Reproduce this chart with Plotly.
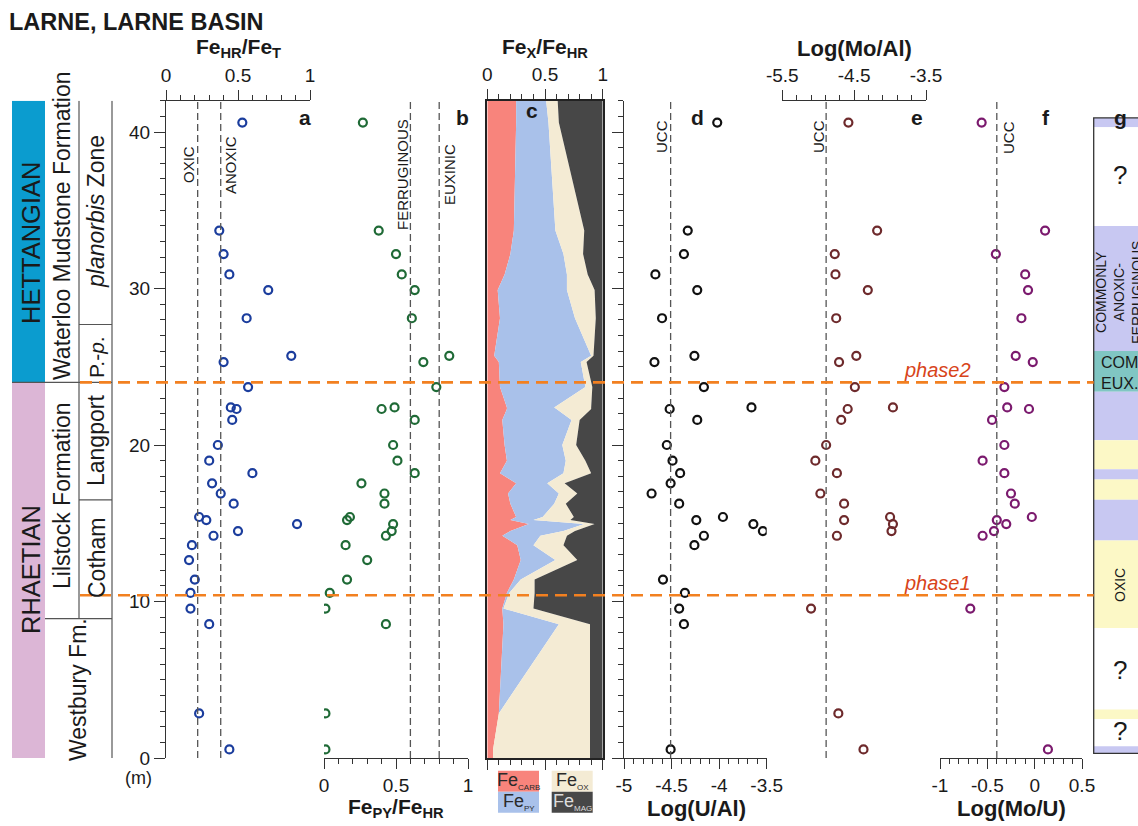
import plotly.graph_objects as go

W, H = 1138, 826
def PX(x): return x / W
def PY(y): return 1 - y / H

# ---------------- data ----------------
depth = [40.6, 33.7, 32.2, 30.9, 29.9, 28.1, 25.7, 25.3, 23.7, 22.4, 22.3, 21.6, 20.0, 19.0, 18.2,
         17.55, 16.9, 16.25, 15.4, 15.2, 14.95, 14.5, 14.2, 13.6, 12.65, 11.4, 10.55, 9.55, 8.55, 2.85, 0.55]
fehr_fet = [0.53, 0.37, 0.40, 0.44, 0.71, 0.56, 0.87, 0.40, 0.57, 0.45, 0.49, 0.46, 0.36, 0.30, 0.60,
            0.32, 0.38, 0.47, 0.23, 0.28, 0.91, 0.50, 0.33, 0.18, 0.16, 0.20, 0.17, 0.17, 0.30, 0.23, 0.44]
fepy_fehr = [0.27, 0.38, 0.50, 0.54, 0.63, 0.61, 0.87, 0.69, 0.78, 0.49, 0.40, 0.63, 0.48, 0.51, 0.63,
             0.26, 0.42, 0.42, 0.18, 0.16, 0.48, 0.47, 0.43, 0.15, 0.30, 0.16, 0.04, 0.01, 0.43, 0.01, 0.01]

c_depth = [42, 40.6, 33.7, 32.2, 30.9, 29.9, 28.1, 25.7, 25.3, 23.7, 22.4, 22.3, 21.6, 20.0, 19.0, 18.2,
           17.55, 16.9, 16.25, 15.4, 15.2, 14.95, 14.5, 14.2, 13.6, 12.65, 11.4, 10.55, 9.55, 8.55, 2.85, 0.55, 0]
fe_carb = [.25, .25, .23, .20, .15, .09, .11, .06, .10, .11, .17, .17, .13, .15, .17, .11,
           .25, .18, .20, .25, .20, .36, .20, .13, .26, .29, .23, .17, .13, .14, .10, .05, .05]
fe_py = [.26, .28, .36, .46, .54, .60, .65, .84, .71, .74, .41, .43, .60, .50, .51, .55,
         .27, .44, .38, .23, .20, .48, .46, .33, .14, .30, .06, .02, .01, .48, .00, .00, .00]
fe_ox = [.10, .09, .25, .17, .18, .24, .18, .02, .05, .06, .32, .30, .07, .12, .17, .24,
         .15, .16, .10, .27, .32, .09, .10, .23, .26, .19, .12, .22, .26, .27, .79, .84, .84]
fe_mag = [.39, .38, .16, .17, .13, .07, .06, .08, .14, .09, .10, .10, .20, .23, .15, .10,
          .33, .22, .32, .25, .28, .07, .24, .31, .34, .22, .59, .59, .60, .11, .11, .11, .11]

d_depth = [40.6, 33.7, 32.2, 30.9, 29.9, 28.1, 25.7, 25.3, 23.7, 22.4, 22.3, 21.6, 20.0, 19.0, 18.2,
           17.55, 16.9, 16.25, 15.4, 15.2, 14.95, 14.5, 14.2, 13.6, 11.4, 10.55, 9.55, 8.55, 0.55]
log_u_al = [-4.02, -4.33, -4.37, -4.67, -4.23, -4.60, -4.26, -4.68, -4.16, -3.66, -4.52, -4.23, -4.55, -4.49, -4.41,
            -4.51, -4.71, -4.42, -3.96, -4.24, -3.64, -3.54, -4.16, -4.26, -4.59, -4.36, -4.42, -4.37, -4.51]

e_depth = [40.6, 33.7, 32.2, 30.9, 29.9, 28.1, 25.7, 25.3, 23.7, 22.4, 22.3, 21.6, 20.0, 19.0, 18.2,
           16.9, 16.25, 15.4, 15.2, 14.95, 14.5, 14.2, 9.55, 2.85, 0.55]
log_mo_al = [-4.58, -4.18, -4.77, -4.76, -4.31, -4.75, -4.47, -4.71, -4.49, -3.96, -4.59, -4.68, -4.89, -5.04, -4.74,
             -4.97, -4.64, -4.00, -4.64, -3.96, -3.98, -4.74, -5.10, -4.72, -4.37]

f_depth = [40.6, 33.7, 32.2, 30.9, 29.9, 28.1, 25.7, 25.3, 23.7, 22.4, 22.3, 21.6, 20.0, 19.0, 18.2,
           16.9, 16.25, 15.4, 15.2, 14.95, 14.5, 14.2, 9.55, 0.55]
log_mo_u = [-0.56, 0.11, -0.41, -0.10, -0.07, -0.14, -0.20, -0.02, -0.32, -0.29, -0.06, -0.45, -0.32, -0.55, -0.32,
            -0.25, -0.21, -0.03, -0.40, -0.30, -0.43, -0.55, -0.68, 0.14]

# thresholds
thr_a = [0.22, 0.38]
thr_a_labels = ["OXIC", "ANOXIC"]
thr_b = [0.60, 0.80]
thr_b_labels = ["FERRUGINOUS", "EUXINIC"]
ucc_u_al, ucc_mo_al, ucc_mo_u = -4.51, -4.89, -0.40
phase_names = ["phase2", "phase1"]
phase_depth = [24.0, 10.4]

# stratigraphy
stage_names = ["HETTANGIAN", "RHAETIAN"]
stage_bottom = [24.0, 0.0]
stage_top = [42.0, 24.0]
stage_colors = ["#0b9ccf", "#dcb6d6"]

# redox interpretation (panel g)
g_bottom = [40.3, 34.0, 26.0, 23.4, 20.3, 18.45, 17.8, 16.5, 13.9, 8.3, 3.1, 2.5, 0.75, 0.3]
g_top = [40.9, 40.3, 34.0, 26.0, 23.4, 20.3, 18.45, 17.8, 16.5, 13.9, 8.3, 3.1, 2.5, 0.75]
g_class = ["anox", "unk", "anox", "eux", "anox", "oxic", "anox", "oxic", "anox", "oxic", "unk", "oxic", "unk", "anox"]

# ---------------- style ----------------
FONT = "Liberation Sans, Arial, sans-serif"
AX = "#333333"
TXT = "#1a1a1a"
ORANGE = "#f28020"
PHASE_TXT = "#d8441a"
col_carb, col_py, col_ox, col_mag = "#f8847c", "#a9c1ea", "#f4ebd4", "#474747"
g_colors = {"anox": "#c8c8f2", "unk": "#ffffff", "eux": "#80c6c3", "oxic": "#fcf8c6"}

fig = go.Figure()

def open_markers(x, y, color, xa, ya):
    return go.Scatter(x=x, y=y, mode="markers", xaxis=xa, yaxis=ya, hoverinfo="skip",
                      marker=dict(symbol="circle-open", size=8, color=color, line=dict(width=2.2)))

fig.add_trace(open_markers(fehr_fet, depth, "#1b3d9d", "x", "y"))
fig.add_trace(open_markers(fepy_fehr, depth, "#1f6a36", "x2", "y4"))
for vals, col in zip([fe_carb, fe_py, fe_ox, fe_mag], [col_carb, col_py, col_ox, col_mag]):
    fig.add_trace(go.Scatter(x=vals, y=c_depth, xaxis="x3", yaxis="y2", stackgroup="c",
                             orientation="h", mode="none", fillcolor=col, line=dict(width=0),
                             hoverinfo="skip"))
fig.add_trace(open_markers(log_u_al, d_depth, "#111111", "x4", "y3"))
fig.add_trace(open_markers(log_mo_al, e_depth, "#6e2a2c", "x5", "y5"))
fig.add_trace(open_markers(log_mo_u, f_depth, "#7b1a6e", "x6", "y6"))
fig.add_trace(go.Bar(x=[0] * len(g_bottom), y=[t - b for t, b in zip(g_top, g_bottom)], base=g_bottom,
                     width=1, xaxis="x7", yaxis="y7", hoverinfo="skip",
                     marker=dict(color=[g_colors[c] for c in g_class], line=dict(width=0))))

YDOM = [PY(758), PY(100.7)]

def minor_vals(a, b, step, majors):
    n = int(round((b - a) / step))
    vals = [round(a + i * step, 4) for i in range(n + 1)]
    return [v for v in vals if all(abs(v - m) > 1e-6 for m in majors)]

def xax(dom, rng, side, anchor, majors, labels, mstep):
    return dict(domain=[PX(dom[0]), PX(dom[1])], range=rng, side=side, anchor=anchor,
                automargin=False,
                showline=True, linecolor=AX, linewidth=1.3, showgrid=False, zeroline=False,
                ticks="outside", ticklen=10, tickwidth=1.3, tickcolor=AX,
                tickmode="array", tickvals=majors, ticktext=labels,
                tickfont=dict(size=19, color=TXT, family=FONT),
                minor=dict(tickmode="array", tickvals=minor_vals(rng[0], rng[1], mstep, majors),
                           ticks="outside", ticklen=5, tickwidth=1.2, tickcolor=AX, showgrid=False))

def yhidden(anchor):
    return dict(domain=YDOM, range=[0, 42], anchor=anchor, visible=False, automargin=False)

ymajors = [0, 10, 20, 30, 40]
yminor = dict(tickmode="array", tickvals=[v for v in range(0, 43) if v % 10 != 0],
              ticks="outside", ticklen=5, tickwidth=1.2, tickcolor=AX, showgrid=False)

fig.update_layout(
    template="none",
    width=W, height=H, margin=dict(l=0, r=0, t=0, b=0, pad=0), autosize=False,
    paper_bgcolor="white", plot_bgcolor="rgba(0,0,0,0)", showlegend=False,
    font=dict(family=FONT, color=TXT),
    xaxis=xax((166, 310), [0, 1], "top", "y", [0, 0.5, 1], ["0", "0.5", "1"], 0.1),
    xaxis2=xax((324, 468), [0, 1], "bottom", "y4", [0, 0.5, 1], ["0", "0.5", "1"], 0.1),
    xaxis3=dict(xax((487.3, 602.7), [0, 1], "top", "y2", [0, 0.5, 1], ["0", "0.5", "1"], 0.1),
                mirror="ticks", linecolor="#222222", linewidth=1.6),
    xaxis4=xax((624, 766.7), [-5, -3.5], "bottom", "y3", [-5, -4.5, -4, -3.5], ["-5", "-4.5", "-4", "-3.5"], 0.1),
    xaxis5=xax((782.3, 926), [-5.5, -3.5], "top", "y5", [-5.5, -4.5, -3.5], ["-5.5", "-4.5", "-3.5"], 0.2),
    xaxis6=xax((940, 1082), [-1, 0.5], "bottom", "y6", [-1, -0.5, 0, 0.5], ["-1", "-0.5", "0", "0.5"], 0.1),
    xaxis7=dict(domain=[PX(1093.7), 1], range=[-0.5, 0.5], anchor="y7", visible=False, automargin=False),
    yaxis=dict(domain=YDOM, range=[0, 42], anchor="x", showline=True, linecolor=AX, linewidth=1.3,
               automargin=False,
               showgrid=False, zeroline=False, ticks="outside", ticklen=11, tickwidth=1.3, tickcolor=AX,
               tickmode="array", tickvals=ymajors, ticktext=[str(v) for v in ymajors],
               tickfont=dict(size=19, color=TXT), minor=yminor),
    yaxis2=dict(domain=YDOM, range=[0, 42], anchor="x3", showline=True, mirror=True, linecolor="#222222",
                automargin=False,
                linewidth=1.6, showgrid=False, zeroline=False, ticks="", showticklabels=False),
    yaxis3=dict(domain=YDOM, range=[0, 42], anchor="x4", showline=True, linecolor=AX, linewidth=1.3,
                automargin=False,
                showgrid=False, zeroline=False, ticks="outside", ticklen=11, tickwidth=1.3, tickcolor=AX,
                tickmode="array", tickvals=ymajors, showticklabels=False, minor=yminor),
    yaxis4=yhidden("x2"), yaxis5=yhidden("x5"), yaxis6=yhidden("x6"), yaxis7=yhidden("x7"),
)

shapes = []
DASH = "7px,4px"
def vdash(xref, yref, xv):
    shapes.append(dict(type="line", xref=xref, yref=yref, x0=xv, x1=xv, y0=0, y1=42,
                       line=dict(color="#555555", width=1.3, dash=DASH), layer="above"))
for v in thr_a:
    vdash("x", "y", v)
for v in thr_b:
    vdash("x2", "y4", v)
vdash("x4", "y3", ucc_u_al)
vdash("x5", "y5", ucc_mo_al)
vdash("x6", "y6", ucc_mo_u)

# stratigraphic column
for nm, b, t, c in zip(stage_names, stage_bottom, stage_top, stage_colors):
    shapes.append(dict(type="rect", xref="paper", yref="y", x0=PX(12), x1=PX(45), y0=b, y1=t,
                       fillcolor=c, line=dict(width=0), layer="below"))
LC = dict(color="#555555", width=1.2)
def seg(x0, x1, y0, y1):
    shapes.append(dict(type="line", xref="paper", yref="y", x0=PX(x0), x1=PX(x1), y0=y0, y1=y1, line=LC))
seg(79, 79, 8.9, 42)
seg(112, 112, 0, 42)
seg(12, 112, 24.0, 24.0)
seg(79, 112, 27.7, 27.7)
seg(79, 112, 16.5, 16.5)
seg(45, 112, 8.9, 8.9)

# panel g frame
shapes.append(dict(type="rect", xref="paper", yref="y7", x0=PX(1093.7), x1=1.05, y0=0.3, y1=40.9,
                   line=dict(color="#333333", width=1.3), fillcolor="rgba(0,0,0,0)"))

# phase lines
for pd in phase_depth:
    shapes.append(dict(type="line", xref="paper", yref="y", x0=PX(80), x1=PX(1093.7), y0=pd, y1=pd,
                       line=dict(color=ORANGE, width=2.6, dash="12px,7px"), layer="above"))

# legend boxes of panel c
for (x0, y0, c) in [(498, 770.7, col_carb), (498, 791.7, col_py), (551.7, 770.7, col_ox), (551.7, 791.7, col_mag)]:
    shapes.append(dict(type="rect", xref="paper", yref="paper", x0=PX(x0), x1=PX(x0 + 41),
                       y0=PY(y0 + 21), y1=PY(y0), fillcolor=c, line=dict(width=0)))

fig.update_layout(shapes=shapes)

ann = []
def A(text, x, y, size, angle=0, color=TXT, xanchor="center", align="center", **kw):
    ann.append(dict(text=text, x=PX(x), y=PY(y), xref="paper", yref="paper", showarrow=False,
                    xanchor=xanchor, yanchor="middle", textangle=angle, align=align,
                    font=dict(size=size, color=color, family=FONT), **kw))

A("<b>LARNE, LARNE BASIN</b>", 7, 22, 23.5, xanchor="left")
A("<b>Fe<sub>HR</sub>/Fe<sub>T</sub></b>", 238, 48, 21)
A("<b>Fe<sub>X</sub>/Fe<sub>HR</sub></b>", 545, 48, 21)
A("<b>Log(Mo/Al)</b>", 854, 48, 22)
A("<b>Fe<sub>PY</sub>/Fe<sub>HR</sub></b>", 396, 808, 21)
A("<b>Log(U/Al)</b>", 696, 808, 22)
A("<b>Log(Mo/U)</b>", 1011, 808, 22)
for t, x, y in [("a", 305, 117), ("b", 462, 117), ("c", 532, 110), ("d", 697, 117),
                ("e", 917, 117), ("f", 1046, 117), ("g", 1120, 118)]:
    A("<b>%s</b>" % t, x, y, 21)
for t, x, y in zip(thr_a_labels + thr_b_labels, [189, 231, 402, 449], [165, 165, 175, 175]):
    A(t, x, y, 15, angle=-90)
A("UCC", 661, 137, 15, angle=-90)
A("UCC", 818, 137, 15, angle=-90)
A("UCC", 1009, 138, 15, angle=-90)

A(stage_names[0], 31, 243, 25.5, angle=-90)
A(stage_names[1], 31, 570, 25.5, angle=-90)
A("Waterloo Mudstone Formation", 62, 226, 23, angle=-90)
A("Lilstock Formation", 62, 496, 23, angle=-90)
A("Westbury Fm.", 78, 690, 23, angle=-90)
A("<i>planorbis</i> Zone", 96, 212, 23, angle=-90)
A("P.-<i>p</i>.", 97, 357, 21, angle=-90)
A("Langport", 96, 441, 23, angle=-90)
A("Cotham", 97, 558, 23, angle=-90)
A("(m)", 138, 778, 18)

for nm, pd in zip(phase_names, phase_depth):
    A("<i>%s</i>" % nm, 937, 758 - pd * 15.65 - 12, 20, color=PHASE_TXT)

A("?", 1120, 175, 26)
A("?", 1120, 670, 26)
A("?", 1120, 731, 26)
A("COMMONLY<br>ANOXIC-<br>FERRUGINOUS", 1119, 293, 14, angle=-90)
A("COM.<br>EUX.", 1099, 373, 16, xanchor="left", align="left")
A("OXIC", 1120, 585, 14, angle=-90)

SUB = "<sub><span style='font-size:8px'>%s</span></sub>"
A("Fe" + SUB % "CARB", 518.5, 781, 18, color="#2a2a2a")
A("Fe" + SUB % "PY", 518.5, 802, 18, color="#2a2a2a")
A("Fe" + SUB % "OX", 572, 781, 18, color="#2a2a2a")
A("Fe" + SUB % "MAG", 572, 802, 18, color="#dddddd")

fig.update_layout(annotations=ann)
fig.write_html("out.html")
